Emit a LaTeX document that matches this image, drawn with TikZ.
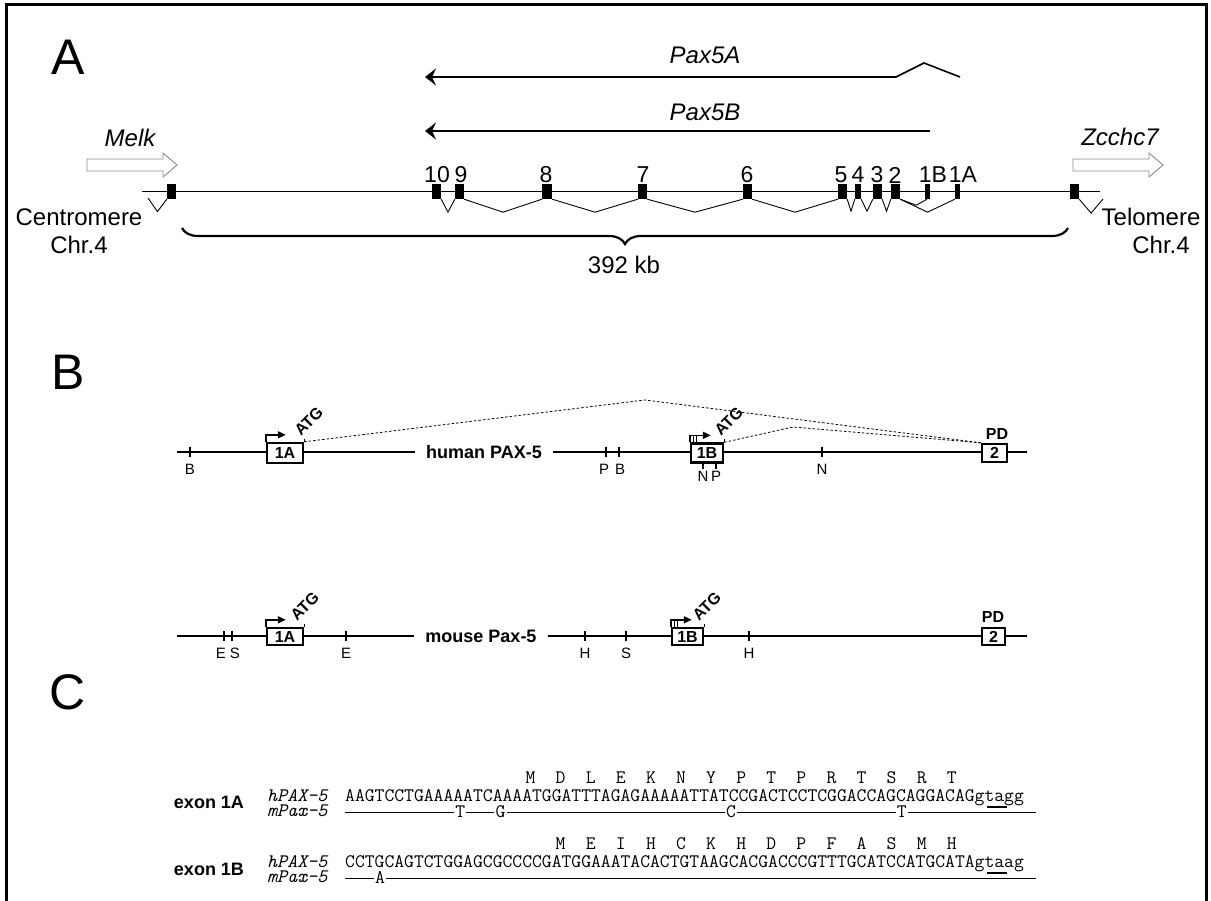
\documentclass[tikz,border=0pt]{standalone}
\usepackage{fontspec}
\setmainfont{Liberation Sans}
\usetikzlibrary{arrows.meta,calc,decorations.pathreplacing}
\definecolor{arrGray}{HTML}{8A8A8A}
\newcommand{\fsz}[1]{\fontsize{#1}{#1}\selectfont}
\def\chw{10.03}
\tikzset{
  panel/.style={font=\fsz{50}, inner sep=0pt},
  lbl/.style={font=\fsz{23}, inner sep=0pt},
  note/.style={font=\fsz{24}, inner sep=0pt},
  gname/.style={font=\itshape\fsz{24}, inner sep=0pt},
  exon/.style={fill=black, inner sep=0pt, minimum width=#1, minimum height=15pt},
  exon/.default=9pt,
  splice/.style={line width=0.9pt},
  txarr/.style={line width=1.6pt, -{Stealth[length=11pt,width=17pt,inset=4pt]}},
  hollow/.style={draw=arrGray, fill=white, line width=0.9pt},
  mapline/.style={line width=2.8pt},
  rtick/.style={line width=1.3pt},
  xbox/.style 2 args={draw, line width=2.4pt, fill=white, inner sep=0pt,
    minimum width=#1, minimum height=#2, font=\bfseries\fsz{16}},
  mapname/.style={font=\bfseries\fsz{18}, inner xsep=11pt, inner ysep=0pt},
  site/.style={font=\fsz{15}, inner sep=0pt},
  pd/.style={font=\bfseries\fsz{16}, inner sep=0pt},
  atg/.style={font=\bfseries\fsz{16}, rotate=45, anchor=south west, inner sep=0pt},
  tss/.style={line width=1.5pt, -{Triangle[length=8pt,width=7pt]}},
  jump/.style={dash pattern=on 2.5pt off 2pt, line width=0.8pt},
  seq/.style={font=\ttfamily\fsz{19.1}, inner sep=0pt, anchor=base west},
  aa/.style={font=\ttfamily\fsz{19.1}, inner sep=0pt, anchor=base},
  mut/.style={font=\ttfamily\fsz{19.1}, inner ysep=0pt, inner xsep=1pt},
  spname/.style={font=\ttfamily\itshape\fsz{19.1}, inner sep=0pt, anchor=base west},
  exname/.style={font=\bfseries\fsz{18}, inner sep=0pt},
  same/.style={line width=0.8pt}
}

\begin{document}
\begin{tikzpicture}[x=1pt,y=-1pt]
  \useasboundingbox (0,0) rectangle (1211,901);
  \draw[line width=3pt] (6,901) -- (6,5) -- (1206,5) -- (1206,901);
  \node[panel] (pA) at (68,57) {A};
  \node[panel] (pB) at (68,372) {B};
  \node[panel] (pC) at (68,692) {C};

  % A: locus
  \node[gname] (tA) at (705,55) {Pax5A};
  \node[gname] (tB) at (705,112) {Pax5B};
  \coordinate (tAs) at (960,77); \coordinate (tAk) at (924,63);
  \coordinate (tAj) at (896,77); \coordinate (tAe) at (425,77);
  \draw[txarr] (tAs) -- (tAk) -- (tAj) -- (tAe);
  \coordinate (tBs) at (930,131); \coordinate (tBe) at (425,131);
  \draw[txarr] (tBs) -- (tBe);

  \node[gname] (melk) at (130,138) {Melk};
  \node[gname] (zcc) at (1120,137) {Zcchc7};
  \foreach \x in {87,1073}
    \draw[hollow] (\x,159) -- ++(76,0) -- ++(0,-6) -- ++(14,12) -- ++(-14,12)
      -- ++(0,-6) -- ++(-76,0) -- cycle;

  \coordinate (chL) at (142,191); \coordinate (chR) at (1100,191);
  \draw[splice] (chL) -- (chR);
  \foreach \n/\x/\w/\lx/\t in {fl/171.5/9/171.5/, e10/436.5/9/437/10, e9/459.5/9/461/9,
      e8/547/10/546/8, e7/642.5/9/643/7, e6/747.5/9/747/6, e5/842.5/9/841/5,
      e4/858/6/858/4, e3/877.5/9/877/3, e2/895.5/9/895/2, e1B/927/5/933/1B,
      e1A/957.5/5/963/1A, fr/1074.5/9/1074.5/} {
    \node[exon=\w pt] (\n) at (\x,191.5) {};
    \node[lbl] (\n lab) at (\lx,175) {\t};
  }
  \foreach \a/\b/\d in {e10/e9/13, e9/e8/13, e8/e7/13, e7/e6/13, e6/e5/13,
      e5/e4/12, e4/e3/12, e3/e2/12, e2/e1A/13}
    \draw[splice] (\a.south east) -- ($(\a.south east)!.5!(\b.south west)+(0,\d)$) -- (\b.south west);
  \draw[splice] (e2.south east) -- ($(e2.south east)!.6!(e1B.south)+(0,6)$) -- (e1B.south);
  \coordinate (flS) at (148,198); \coordinate (frE) at (1103,199);
  \draw[splice] (flS) -- ($(flS)!.5!(fl.south west)+(0,13)$) -- (fl.south west);
  \draw[splice] (fr.south east) -- ($(fr.south east)!.5!(frE)+(0,14)$) -- (frE);

  \node[note] (cen) at (79,217) {Centromere};
  \node[note] (cenchr) at (79,245) {Chr.4};
  \node[note] (tel) at (1151,217) {Telomere};
  \node[note] (telchr) at (1161,245) {Chr.4};

  \coordinate (brR) at (1068,228); \coordinate (brL) at (182,228);
  \draw[line width=2.2pt, decorate, decoration={brace, amplitude=16pt}] (brR) -- (brL);
  \node[note] (kb) at (624,265) {392 kb};

  % B: human
  \coordinate (hL) at (177,452); \coordinate (hR) at (1027,452);
  \node[mapname] (hname) at (484,452) {human PAX-5};
  \draw[mapline] (hL) -- (hname.west) (hname.east) -- (hR);
  \foreach \x/\lx/\s in {190/190/B, 606/604/P, 619/620/B, 822/822/N} {
    \draw[rtick] (\x,447) -- (\x,457);
    \node[site] (hs\x) at (\lx,469) {\s};
  }
  \node[xbox={36pt}{20pt}] (h1A) at (285,453) {1A};
  \node[xbox={32pt}{19pt}] (h1B) at (707,453) {1B};
  \node[xbox={25pt}{18pt}] (h2) at (994.5,453) {2};
  \node[pd] (hPD) at (997,434) {PD};
  \draw[rtick] (703,463) -- (703,469) (716,463) -- (716,469);
  \node[site] (hnN) at (703,476) {N};
  \node[site] (hnP) at (716,476) {P};
  \draw[tss] (h1A.north west) -- ++(0,-7) -- ++(20,0);
  \draw[tss] (h1B.north west) -- ++(0,-7) -- ++(21,0);
  \foreach \d in {3.5,7}
    \draw[line width=1pt] ($(h1B.north west)+(\d,0)$) -- ++(0,-7);
  \draw[rtick] (h1A.north east) -- ++(0,-3);
  \draw[rtick] (h1B.north east) -- ++(0,-3);
  \node[atg] (hatgA) at ($(h1A.north east)+(-3,-5)$) {ATG};
  \node[atg] (hatgB) at ($(h1B.north east)+(-3,-5)$) {ATG};
  \coordinate (pk1) at (645,400); \coordinate (pk2) at (793,427);
  \draw[jump] (h1A.north east) -- (pk1) -- (h2.north west);
  \draw[jump] (h1B.north east) -- (pk2) -- (h2.north west);

  % B: mouse
  \coordinate (mL) at (177,636); \coordinate (mR) at (1027,636);
  \node[mapname] (mname) at (481,636) {mouse Pax-5};
  \draw[mapline] (mL) -- (mname.west) (mname.east) -- (mR);
  \foreach \x/\lx/\s in {224/221/E, 232/235/S, 346/346/E, 585/585/H, 626/626/S, 749/749/H} {
    \draw[rtick] (\x,631) -- (\x,641);
    \node[site] (ms\x) at (\lx,653) {\s};
  }
  \node[xbox={36pt}{17pt}] (m1A) at (285,636.5) {1A};
  \node[xbox={31pt}{17pt}] (m1B) at (687.5,636.5) {1B};
  \node[xbox={23pt}{17pt}] (m2) at (993.5,636.5) {2};
  \node[pd] (mPD) at (993,617) {PD};
  \draw[tss] (m1A.north west) -- ++(0,-7) -- ++(20,0);
  \draw[tss] (m1B.north west) -- ++(0,-7) -- ++(21,0);
  \foreach \d in {3.5,7}
    \draw[line width=1pt] ($(m1B.north west)+(\d,0)$) -- ++(0,-7);
  \draw[rtick] (m1A.north east) -- ++(0,-3);
  \draw[rtick] (m1B.north east) -- ++(0,-3);
  \node[atg] (matgA) at ($(m1A.north east)+(-7,-5)$) {ATG};
  \node[atg] (matgB) at ($(m1B.north east)+(-5,-5)$) {ATG};

  % C: exon 1A
  \node[exname] (x1A) at (209,802) {exon 1A};
  \node[spname] (hlabA) at (267,801) {hPAX-5};
  \node[seq] (hA) at (345,801) {AAGTCCTGAAAAATCAAAATGGATTTAGAGAAAAATTATCCGACTCCTCGGACCAGCAGGACAGgtagg};
  \draw[line width=2.5pt] ($(hA.base west)+({64*\chw},6)$) -- ($(hA.base west)+({66*\chw},6)$);
  \foreach \a [count=\i from 0] in {M,D,L,E,K,N,Y,P,T,P,R,T,S,R,T}
    \node[aa] (aA\i) at ($(hA.base west)+({(18.5+3*\i)*\chw},-18)$) {\a};
  \node[spname] (mlabA) at (267,816) {mPax-5};
  \coordinate (mAs) at (345,812); \coordinate (mAe) at (1036,812);
  \foreach \k/\b [count=\i] in {12/T,16/G,39/C,56/T}
    \node[mut] (mA\i) at ({345+(\k-0.5)*\chw},812) {\b};
  \draw[same] (mAs) -- (mA1.west) (mA1.east) -- (mA2.west) (mA2.east) -- (mA3.west)
    (mA3.east) -- (mA4.west) (mA4.east) -- (mAe);

  % C: exon 1B
  \node[exname] (x1B) at (209,869) {exon 1B};
  \node[spname] (hlabB) at (267,867) {hPAX-5};
  \node[seq] (hB) at (345,867) {CCTGCAGTCTGGAGCGCCCCGATGGAAATACACTGTAAGCACGACCCGTTTGCATCCATGCATAgtaag};
  \draw[line width=2.5pt] ($(hB.base west)+({64*\chw},6)$) -- ($(hB.base west)+({66*\chw},6)$);
  \foreach \a [count=\i from 0] in {M,E,I,H,C,K,H,D,P,F,A,S,M,H}
    \node[aa] (aB\i) at ($(hB.base west)+({(21.5+3*\i)*\chw},-18)$) {\a};
  \node[spname] (mlabB) at (267,882) {mPax-5};
  \coordinate (mBs) at (345,878); \coordinate (mBe) at (1036,878);
  \node[mut] (mB1) at ({345+3.5*\chw},878) {A};
  \draw[same] (mBs) -- (mB1.west) (mB1.east) -- (mBe);
\end{tikzpicture}
\end{document}
